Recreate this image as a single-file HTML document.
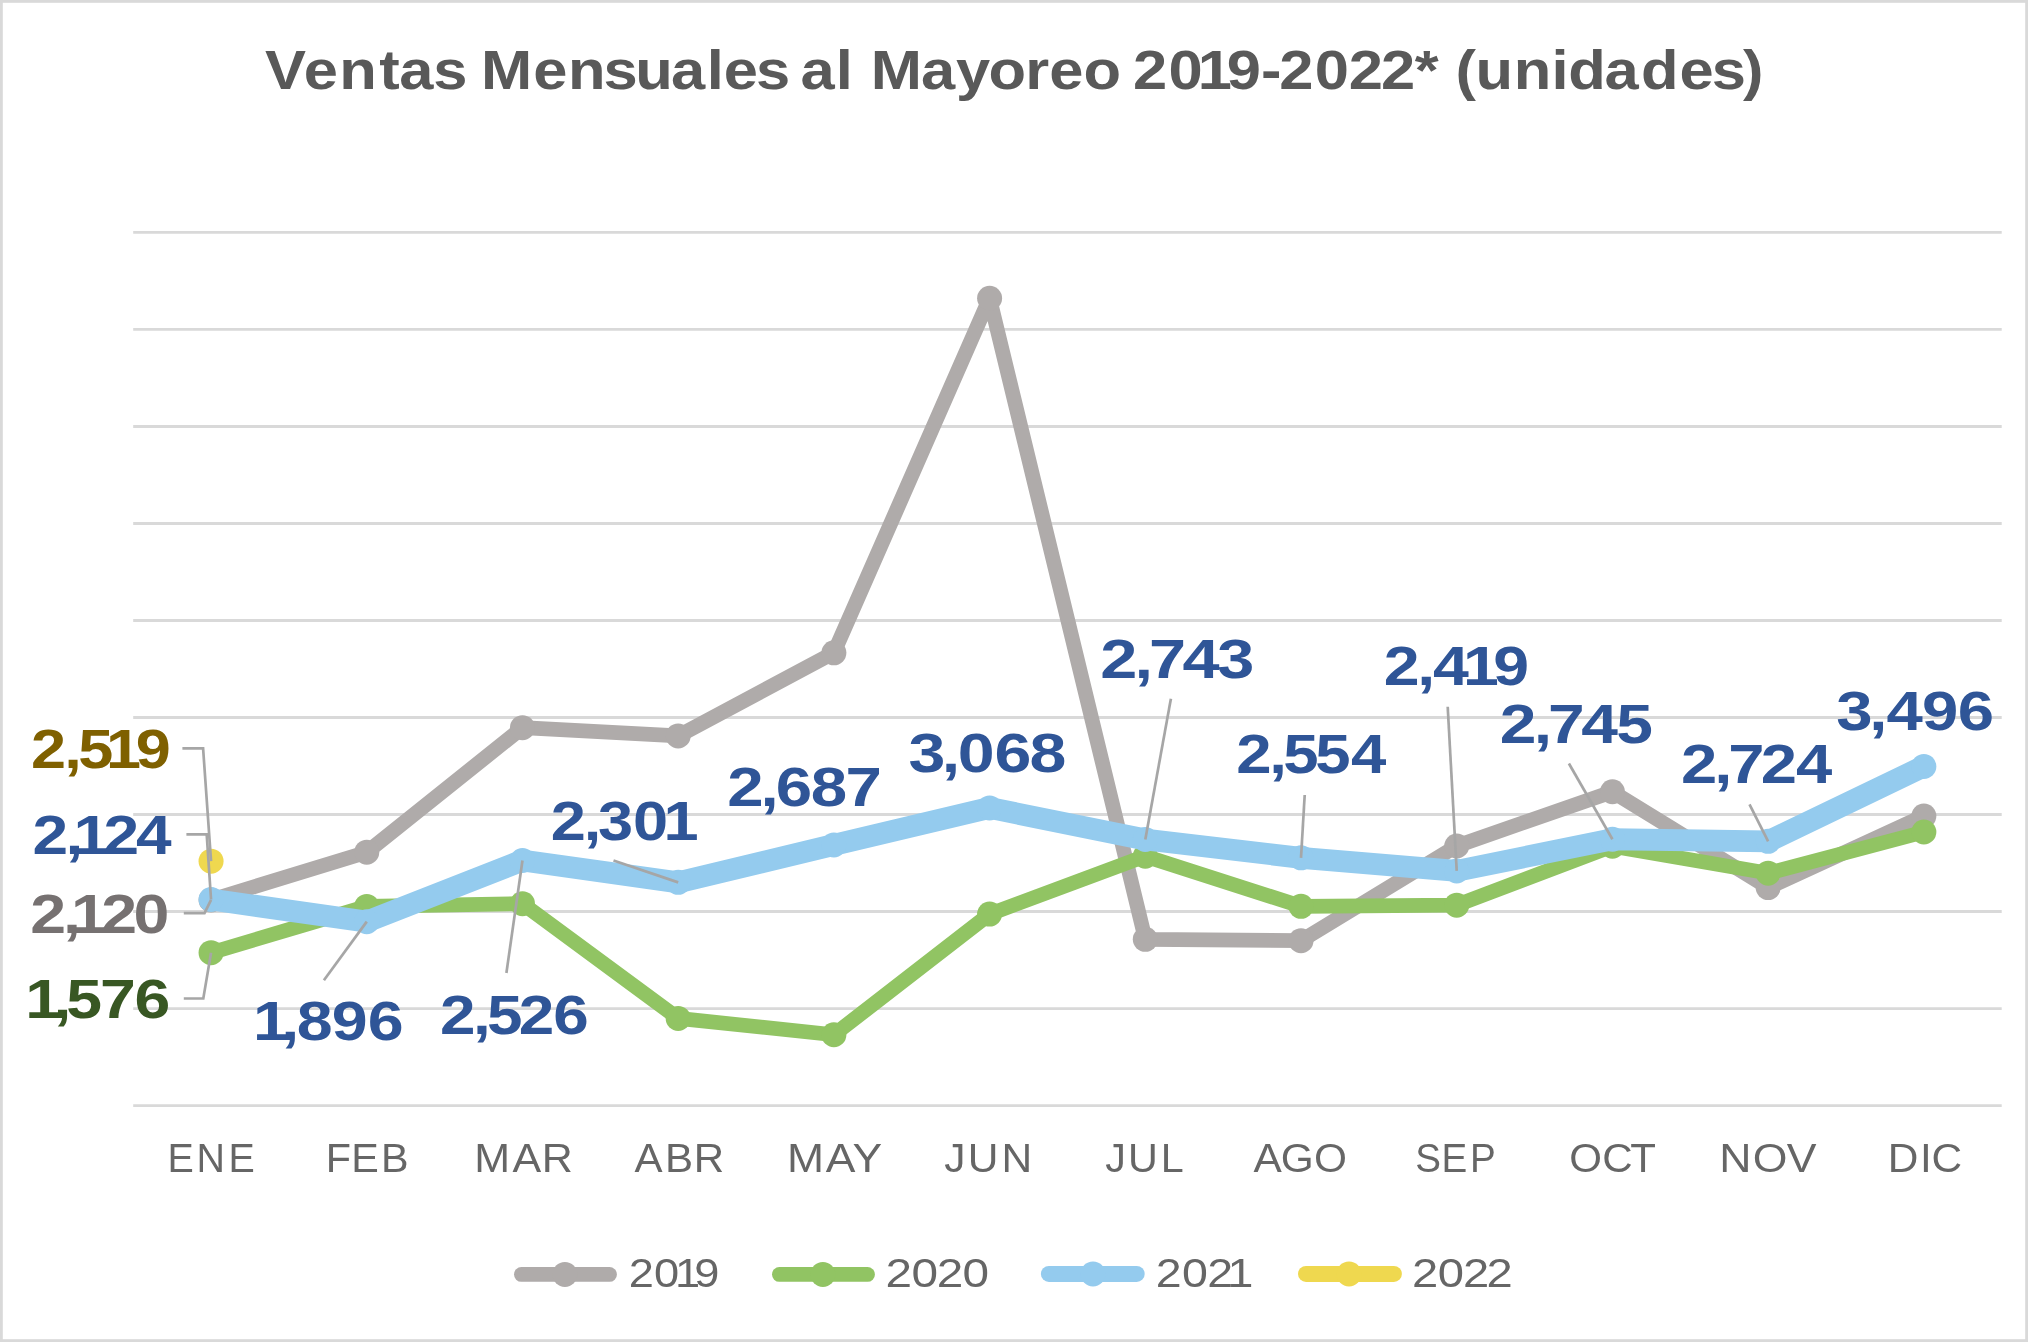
<!DOCTYPE html>
<html><head><meta charset="utf-8"><title>Ventas Mensuales al Mayoreo 2019-2022</title>
<style>html,body{margin:0;padding:0;background:#fff;}svg{display:block;will-change:transform;}</style></head>
<body><svg width="2028" height="1342" viewBox="0 0 2028 1342">
<rect x="0" y="0" width="2028" height="1342" fill="#ffffff"/>
<rect x="1.4" y="1.4" width="2025.2" height="1339.2" fill="none" stroke="#d9d9d9" stroke-width="2.8"/>
<line x1="133.2" y1="232.40" x2="2001.7" y2="232.40" stroke="#d9d9d9" stroke-width="2.9"/>
<line x1="133.2" y1="329.42" x2="2001.7" y2="329.42" stroke="#d9d9d9" stroke-width="2.9"/>
<line x1="133.2" y1="426.44" x2="2001.7" y2="426.44" stroke="#d9d9d9" stroke-width="2.9"/>
<line x1="133.2" y1="523.47" x2="2001.7" y2="523.47" stroke="#d9d9d9" stroke-width="2.9"/>
<line x1="133.2" y1="620.49" x2="2001.7" y2="620.49" stroke="#d9d9d9" stroke-width="2.9"/>
<line x1="133.2" y1="717.51" x2="2001.7" y2="717.51" stroke="#d9d9d9" stroke-width="2.9"/>
<line x1="133.2" y1="814.53" x2="2001.7" y2="814.53" stroke="#d9d9d9" stroke-width="2.9"/>
<line x1="133.2" y1="911.56" x2="2001.7" y2="911.56" stroke="#d9d9d9" stroke-width="2.9"/>
<line x1="133.2" y1="1008.58" x2="2001.7" y2="1008.58" stroke="#d9d9d9" stroke-width="2.9"/>
<line x1="133.2" y1="1105.60" x2="2001.7" y2="1105.60" stroke="#d9d9d9" stroke-width="2.9"/>
<polyline points="211.05,899.91 366.76,852.18 522.47,727.70 678.18,735.95 833.89,652.80 989.60,298.28 1145.30,939.30 1301.01,940.66 1456.72,845.97 1612.43,791.73 1768.14,887.59 1923.85,815.99" fill="none" stroke="#afabaa" stroke-width="14.7" stroke-linejoin="round" stroke-linecap="round"/>
<circle cx="211.05" cy="899.91" r="12.5" fill="#afabaa"/>
<circle cx="366.76" cy="852.18" r="12.5" fill="#afabaa"/>
<circle cx="522.47" cy="727.70" r="12.5" fill="#afabaa"/>
<circle cx="678.18" cy="735.95" r="12.5" fill="#afabaa"/>
<circle cx="833.89" cy="652.80" r="12.5" fill="#afabaa"/>
<circle cx="989.60" cy="298.28" r="12.5" fill="#afabaa"/>
<circle cx="1145.30" cy="939.30" r="12.5" fill="#afabaa"/>
<circle cx="1301.01" cy="940.66" r="12.5" fill="#afabaa"/>
<circle cx="1456.72" cy="845.97" r="12.5" fill="#afabaa"/>
<circle cx="1612.43" cy="791.73" r="12.5" fill="#afabaa"/>
<circle cx="1768.14" cy="887.59" r="12.5" fill="#afabaa"/>
<circle cx="1923.85" cy="815.99" r="12.5" fill="#afabaa"/>
<polyline points="211.05,952.69 366.76,906.41 522.47,903.70 678.18,1018.38 833.89,1034.77 989.60,914.08 1145.30,856.16 1301.01,906.32 1456.72,905.15 1612.43,846.16 1768.14,873.13 1923.85,832.00" fill="none" stroke="#91c463" stroke-width="14.7" stroke-linejoin="round" stroke-linecap="round"/>
<circle cx="211.05" cy="952.69" r="12.5" fill="#91c463"/>
<circle cx="366.76" cy="906.41" r="12.5" fill="#91c463"/>
<circle cx="522.47" cy="903.70" r="12.5" fill="#91c463"/>
<circle cx="678.18" cy="1018.38" r="12.5" fill="#91c463"/>
<circle cx="833.89" cy="1034.77" r="12.5" fill="#91c463"/>
<circle cx="989.60" cy="914.08" r="12.5" fill="#91c463"/>
<circle cx="1145.30" cy="856.16" r="12.5" fill="#91c463"/>
<circle cx="1301.01" cy="906.32" r="12.5" fill="#91c463"/>
<circle cx="1456.72" cy="905.15" r="12.5" fill="#91c463"/>
<circle cx="1612.43" cy="846.16" r="12.5" fill="#91c463"/>
<circle cx="1768.14" cy="873.13" r="12.5" fill="#91c463"/>
<circle cx="1923.85" cy="832.00" r="12.5" fill="#91c463"/>
<polyline points="211.05,899.52 366.76,921.65 522.47,860.52 678.18,882.35 833.89,844.90 989.60,807.94 1145.30,839.47 1301.01,857.81 1456.72,870.90 1612.43,839.27 1768.14,841.31 1923.85,766.41" fill="none" stroke="#94cbee" stroke-width="21.8" stroke-linejoin="round" stroke-linecap="round"/>
<circle cx="211.05" cy="899.52" r="12.5" fill="#94cbee"/>
<circle cx="366.76" cy="921.65" r="12.5" fill="#94cbee"/>
<circle cx="522.47" cy="860.52" r="12.5" fill="#94cbee"/>
<circle cx="678.18" cy="882.35" r="12.5" fill="#94cbee"/>
<circle cx="833.89" cy="844.90" r="12.5" fill="#94cbee"/>
<circle cx="989.60" cy="807.94" r="12.5" fill="#94cbee"/>
<circle cx="1145.30" cy="839.47" r="12.5" fill="#94cbee"/>
<circle cx="1301.01" cy="857.81" r="12.5" fill="#94cbee"/>
<circle cx="1456.72" cy="870.90" r="12.5" fill="#94cbee"/>
<circle cx="1612.43" cy="839.27" r="12.5" fill="#94cbee"/>
<circle cx="1768.14" cy="841.31" r="12.5" fill="#94cbee"/>
<circle cx="1923.85" cy="766.41" r="12.5" fill="#94cbee"/>
<circle cx="211.05" cy="861.20" r="12.5" fill="#efd84f"/>
<polyline points="182.40,748.40 203.10,748.40 211.05,861.20" fill="none" stroke="#a6a6a6" stroke-width="2.7"/>
<polyline points="186.40,834.40 206.70,834.40 211.05,899.52" fill="none" stroke="#a6a6a6" stroke-width="2.7"/>
<polyline points="183.80,913.20 204.50,913.20 211.05,899.91" fill="none" stroke="#a6a6a6" stroke-width="2.7"/>
<polyline points="183.80,998.50 203.30,998.50 211.05,952.69" fill="none" stroke="#a6a6a6" stroke-width="2.7"/>
<polyline points="323.90,980.20 366.76,921.65" fill="none" stroke="#a6a6a6" stroke-width="2.7"/>
<polyline points="506.40,973.00 522.47,860.52" fill="none" stroke="#a6a6a6" stroke-width="2.7"/>
<polyline points="613.50,860.50 678.18,882.35" fill="none" stroke="#a6a6a6" stroke-width="2.7"/>
<polyline points="1170.90,698.70 1145.30,839.47" fill="none" stroke="#a6a6a6" stroke-width="2.7"/>
<polyline points="1304.70,795.00 1301.01,857.81" fill="none" stroke="#a6a6a6" stroke-width="2.7"/>
<polyline points="1447.70,706.70 1456.72,870.90" fill="none" stroke="#a6a6a6" stroke-width="2.7"/>
<polyline points="1568.90,763.50 1612.43,839.27" fill="none" stroke="#a6a6a6" stroke-width="2.7"/>
<polyline points="1749.50,804.30 1768.14,841.31" fill="none" stroke="#a6a6a6" stroke-width="2.7"/>
<line x1="521.4" y1="1274.4" x2="609.5" y2="1274.4" stroke="#afabaa" stroke-width="14.8" stroke-linecap="round"/>
<circle cx="564.9" cy="1274.4" r="12.5" fill="#afabaa"/>
<line x1="779.4" y1="1274.4" x2="867.5" y2="1274.4" stroke="#91c463" stroke-width="14.8" stroke-linecap="round"/>
<circle cx="822.9" cy="1274.4" r="12.5" fill="#91c463"/>
<line x1="1048.9" y1="1273.9" x2="1136.7" y2="1273.9" stroke="#94cbee" stroke-width="16.0" stroke-linecap="round"/>
<circle cx="1093.0" cy="1273.9" r="12.5" fill="#94cbee"/>
<line x1="1306.0" y1="1273.9" x2="1393.9" y2="1273.9" stroke="#efd84f" stroke-width="16.0" stroke-linecap="round"/>
<circle cx="1349.0" cy="1273.9" r="12.5" fill="#efd84f"/>
<text transform="scale(1.0902,1)" x="243.20 278.73 311.29 347.91 366.12 397.52 428.89 441.27 489.04 521.03 553.56 582.77 615.46 648.35 663.93 693.50 724.87 734.25 766.70 782.37 798.71 844.76 876.97 906.73 940.44 962.45 993.84 1028.29 1039.27 1071.74 1098.69 1125.15 1156.63 1173.49 1205.96 1237.15 1266.84 1297.80 1319.75 1335.04 1353.49 1388.43 1423.04 1438.60 1471.82 1505.27 1540.53 1570.23 1598.80" y="88.60" font-family="'Liberation Sans', 'DejaVu Sans', sans-serif" font-weight="700" font-size="56.40" fill="#595959">Ventas Mensuales al Mayoreo 2019-2022* (unidades)</text>
<text transform="scale(1.1170,1)" x="27.82 57.58 70.09 94.99 121.49" y="768.20" font-family="'Liberation Sans', 'DejaVu Sans', sans-serif" font-weight="700" font-size="56.40" fill="#7f6000">2,519</text>
<text transform="scale(1.1350,1)" x="28.74 57.68 64.70 91.22 119.79" y="854.40" font-family="'Liberation Sans', 'DejaVu Sans', sans-serif" font-weight="700" font-size="56.40" fill="#2f5597">2,124</text>
<text transform="scale(1.1429,1)" x="26.55 55.11 62.14 88.67 116.74" y="933.10" font-family="'Liberation Sans', 'DejaVu Sans', sans-serif" font-weight="700" font-size="56.40" fill="#767171">2,120</text>
<text transform="scale(1.1416,1)" x="22.12 46.77 58.15 87.54 117.80" y="1018.40" font-family="'Liberation Sans', 'DejaVu Sans', sans-serif" font-weight="700" font-size="56.40" fill="#385723">1,576</text>
<text transform="scale(1.1442,1)" x="221.22 245.88 259.28 290.03 321.42" y="1040.30" font-family="'Liberation Sans', 'DejaVu Sans', sans-serif" font-weight="700" font-size="56.40" fill="#2f5597">1,896</text>
<text transform="scale(1.1319,1)" x="388.65 417.93 430.16 458.36 488.75" y="1034.20" font-family="'Liberation Sans', 'DejaVu Sans', sans-serif" font-weight="700" font-size="56.40" fill="#2f5597">2,526</text>
<text transform="scale(1.1189,1)" x="492.25 521.69 534.47 565.75 592.95" y="839.70" font-family="'Liberation Sans', 'DejaVu Sans', sans-serif" font-weight="700" font-size="56.40" fill="#2f5597">2,301</text>
<text transform="scale(1.1595,1)" x="627.16 656.00 669.11 699.14 729.12" y="806.10" font-family="'Liberation Sans', 'DejaVu Sans', sans-serif" font-weight="700" font-size="56.40" fill="#2f5597">2,687</text>
<text transform="scale(1.1743,1)" x="773.65 802.00 815.60 846.86 876.79" y="772.40" font-family="'Liberation Sans', 'DejaVu Sans', sans-serif" font-weight="700" font-size="56.40" fill="#2f5597">3,068</text>
<text transform="scale(1.1815,1)" x="931.17 960.24 972.45 1000.88 1030.28" y="677.60" font-family="'Liberation Sans', 'DejaVu Sans', sans-serif" font-weight="700" font-size="56.40" fill="#2f5597">2,743</text>
<text transform="scale(1.1264,1)" x="1097.44 1126.82 1139.15 1167.62 1199.34" y="773.30" font-family="'Liberation Sans', 'DejaVu Sans', sans-serif" font-weight="700" font-size="56.40" fill="#2f5597">2,554</text>
<text transform="scale(1.1424,1)" x="1211.22 1240.52 1254.44 1280.63 1307.16" y="685.20" font-family="'Liberation Sans', 'DejaVu Sans', sans-serif" font-weight="700" font-size="56.40" fill="#2f5597">2,419</text>
<text transform="scale(1.1695,1)" x="1282.46 1311.53 1323.73 1352.16 1381.95" y="742.60" font-family="'Liberation Sans', 'DejaVu Sans', sans-serif" font-weight="700" font-size="56.40" fill="#2f5597">2,745</text>
<text transform="scale(1.1559,1)" x="1454.23 1483.12 1495.14 1523.32 1553.71" y="783.00" font-family="'Liberation Sans', 'DejaVu Sans', sans-serif" font-weight="700" font-size="56.40" fill="#2f5597">2,724</text>
<text transform="scale(1.1572,1)" x="1586.89 1615.43 1630.32 1660.89 1691.84" y="730.10" font-family="'Liberation Sans', 'DejaVu Sans', sans-serif" font-weight="700" font-size="56.40" fill="#2f5597">3,496</text>
<text transform="scale(0.9907,1)" x="169.13 198.43 230.64" y="1172.30" font-family="'Liberation Sans', 'DejaVu Sans', sans-serif" font-weight="400" font-size="39.80" fill="#666666">ENE</text>
<text transform="scale(1.0385,1)" x="313.80 338.27 366.94" y="1172.30" font-family="'Liberation Sans', 'DejaVu Sans', sans-serif" font-weight="400" font-size="39.80" fill="#666666">FEB</text>
<text transform="scale(1.0811,1)" x="438.75 474.10 501.12" y="1172.30" font-family="'Liberation Sans', 'DejaVu Sans', sans-serif" font-weight="400" font-size="39.80" fill="#666666">MAR</text>
<text transform="scale(1.0573,1)" x="600.17 628.91 656.09" y="1172.30" font-family="'Liberation Sans', 'DejaVu Sans', sans-serif" font-weight="400" font-size="39.80" fill="#666666">ABR</text>
<text transform="scale(1.1182,1)" x="703.91 738.42 762.37" y="1172.30" font-family="'Liberation Sans', 'DejaVu Sans', sans-serif" font-weight="400" font-size="39.80" fill="#666666">MAY</text>
<text transform="scale(1.0682,1)" x="884.06 906.04 937.57" y="1172.30" font-family="'Liberation Sans', 'DejaVu Sans', sans-serif" font-weight="400" font-size="39.80" fill="#666666">JUN</text>
<text transform="scale(1.0379,1)" x="1064.92 1086.90 1118.43" y="1172.30" font-family="'Liberation Sans', 'DejaVu Sans', sans-serif" font-weight="400" font-size="39.80" fill="#666666">JUL</text>
<text transform="scale(1.0662,1)" x="1175.60 1201.25 1232.38" y="1172.30" font-family="'Liberation Sans', 'DejaVu Sans', sans-serif" font-weight="400" font-size="39.80" fill="#666666">AGO</text>
<text transform="scale(0.9694,1)" x="1459.83 1487.12 1516.51" y="1172.30" font-family="'Liberation Sans', 'DejaVu Sans', sans-serif" font-weight="400" font-size="39.80" fill="#666666">SEP</text>
<text transform="scale(1.0576,1)" x="1483.75 1515.06 1541.58" y="1172.30" font-family="'Liberation Sans', 'DejaVu Sans', sans-serif" font-weight="400" font-size="39.80" fill="#666666">OCT</text>
<text transform="scale(1.1210,1)" x="1533.59 1563.51 1593.80" y="1172.30" font-family="'Liberation Sans', 'DejaVu Sans', sans-serif" font-weight="400" font-size="39.80" fill="#666666">NOV</text>
<text transform="scale(1.0656,1)" x="1771.63 1801.76 1812.57" y="1172.30" font-family="'Liberation Sans', 'DejaVu Sans', sans-serif" font-weight="400" font-size="39.80" fill="#666666">DIC</text>
<text transform="scale(1.1372,1)" x="553.00 575.16 593.52 610.53" y="1286.90" font-family="'Liberation Sans', 'DejaVu Sans', sans-serif" font-weight="400" font-size="39.80" fill="#666666">2019</text>
<text transform="scale(1.1996,1)" x="738.21 759.83 780.79 802.43" y="1286.90" font-family="'Liberation Sans', 'DejaVu Sans', sans-serif" font-weight="400" font-size="39.80" fill="#666666">2020</text>
<text transform="scale(1.1704,1)" x="987.58 1009.82 1031.39 1048.84" y="1286.90" font-family="'Liberation Sans', 'DejaVu Sans', sans-serif" font-weight="400" font-size="39.80" fill="#666666">2021</text>
<text transform="scale(1.1863,1)" x="1190.17 1212.01 1233.18 1253.09" y="1286.90" font-family="'Liberation Sans', 'DejaVu Sans', sans-serif" font-weight="400" font-size="39.80" fill="#666666">2022</text>
</svg></body></html>
